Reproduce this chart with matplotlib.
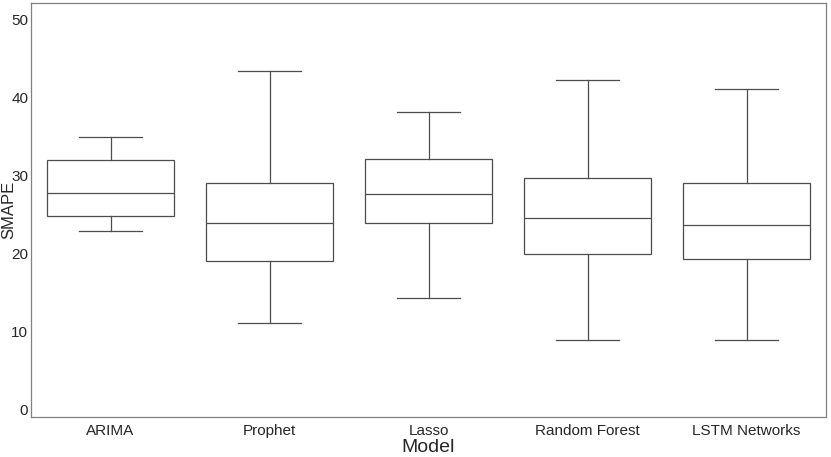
import matplotlib
matplotlib.use("Agg")
import matplotlib.pyplot as plt

models = ["ARIMA", "Prophet", "Lasso", "Random Forest", "LSTM Networks"]
whislo = [22.9, 11.1, 14.3, 8.95, 8.95]
q1 = [24.8, 19.05, 23.9, 19.95, 19.3]
med = [27.75, 23.9, 27.6, 24.55, 23.65]
q3 = [32.0, 29.0, 32.1, 29.7, 29.0]
whishi = [34.9, 43.35, 38.1, 42.2, 41.05]

stats = []
for i, m in enumerate(models):
    stats.append({"label": m, "whislo": whislo[i], "q1": q1[i], "med": med[i],
                  "q3": q3[i], "whishi": whishi[i], "fliers": []})

plt.rcParams["font.family"] = ["Liberation Sans", "DejaVu Sans"]

fig = plt.figure(figsize=(8.31, 4.57), dpi=100)
ax = fig.add_axes([31 / 831, 40 / 457, 795 / 831, 414 / 457])

lc = "0.3"
lw = 0.9
ax.bxp(stats, positions=range(len(models)), widths=0.8, patch_artist=True,
       showfliers=False,
       boxprops=dict(facecolor="white", edgecolor=lc, linewidth=lw),
       medianprops=dict(color=lc, linewidth=lw),
       whiskerprops=dict(color=lc, linewidth=lw),
       capprops=dict(color=lc, linewidth=lw),
       capwidths=0.4)

ax.set_xlim(-0.5, 4.5)
ax.set_ylim(-0.9, 52.05)
ax.set_yticks([0, 10, 20, 30, 40, 50])
ax.tick_params(length=0, labelsize=11, colors="0.15")
ax.tick_params(axis="x", pad=5)
ax.tick_params(axis="y", pad=2)
for s in ax.spines.values():
    s.set_color("0.5")
    s.set_linewidth(0.9)

ax.set_xlabel("Model", fontsize=14, color="0.15", labelpad=1)
ax.set_ylabel("SMAPE", fontsize=12, color="0.15")
ax.yaxis.set_label_coords(-15 / 795, 0.5)

fig.savefig("out.png", dpi=100)
